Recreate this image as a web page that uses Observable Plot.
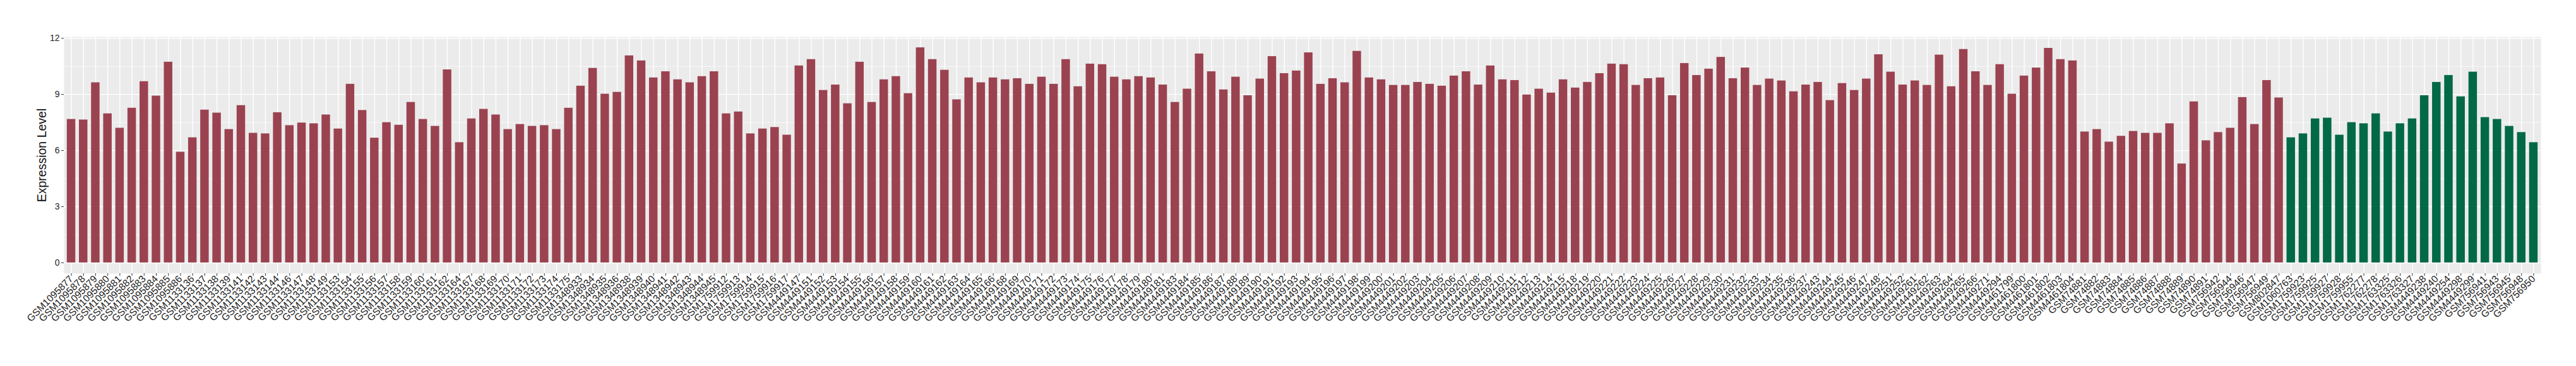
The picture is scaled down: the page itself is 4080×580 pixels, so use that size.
<!DOCTYPE html>
<html>
<head>
<meta charset="utf-8">
<script src="https://cdn.jsdelivr.net/npm/d3@7"></script>
<script src="https://cdn.jsdelivr.net/npm/@observablehq/plot@0.6"></script>
<style>
  html, body { margin: 0; padding: 0; background: #ffffff; }
  #chart svg { display: block; }
</style>
</head>
<body>
<div id="chart"></div>
<script>
const groupNames = ["Group 1", "Group 2"];
const groupColors = ["#9B4250", "#016946"];

const group1Samples = [
  "GSM1095877","GSM1095878","GSM1095879","GSM1095880","GSM1095881","GSM1095882","GSM1095883","GSM1095884","GSM1095885","GSM1095886",
  "GSM1133136","GSM1133137","GSM1133138","GSM1133139","GSM1133141","GSM1133142","GSM1133143","GSM1133144","GSM1133146","GSM1133147",
  "GSM1133148","GSM1133149","GSM1133153","GSM1133154","GSM1133155","GSM1133156","GSM1133157","GSM1133158","GSM1133159","GSM1133160",
  "GSM1133161","GSM1133162","GSM1133164","GSM1133167","GSM1133168","GSM1133169","GSM1133170","GSM1133171","GSM1133172","GSM1133173",
  "GSM1133174","GSM1133175","GSM1348933","GSM1348934","GSM1348935","GSM1348936","GSM1348938","GSM1348939","GSM1348940","GSM1348941",
  "GSM1348942","GSM1348943","GSM1348944","GSM1348945","GSM1759912","GSM1759913","GSM1759914","GSM1759915","GSM1759916","GSM1759917",
  "GSM4449147","GSM4449151","GSM4449152","GSM4449153","GSM4449154","GSM4449155","GSM4449156","GSM4449157","GSM4449158","GSM4449159",
  "GSM4449160","GSM4449161","GSM4449162","GSM4449163","GSM4449164","GSM4449165","GSM4449166","GSM4449168","GSM4449169","GSM4449170",
  "GSM4449171","GSM4449172","GSM4449173","GSM4449174","GSM4449175","GSM4449176","GSM4449177","GSM4449178","GSM4449179","GSM4449180",
  "GSM4449181","GSM4449183","GSM4449184","GSM4449185","GSM4449186","GSM4449187","GSM4449188","GSM4449189","GSM4449190","GSM4449191",
  "GSM4449192","GSM4449193","GSM4449194","GSM4449195","GSM4449196","GSM4449197","GSM4449198","GSM4449199","GSM4449200","GSM4449201",
  "GSM4449202","GSM4449203","GSM4449204","GSM4449205","GSM4449206","GSM4449207","GSM4449208","GSM4449209","GSM4449210","GSM4449211",
  "GSM4449212","GSM4449213","GSM4449214","GSM4449215","GSM4449218","GSM4449219","GSM4449220","GSM4449221","GSM4449222","GSM4449223",
  "GSM4449224","GSM4449225","GSM4449226","GSM4449227","GSM4449228","GSM4449229","GSM4449230","GSM4449231","GSM4449232","GSM4449233",
  "GSM4449234","GSM4449235","GSM4449236","GSM4449237","GSM4449243","GSM4449244","GSM4449245","GSM4449246","GSM4449247","GSM4449248",
  "GSM4449251","GSM4449252","GSM4449261","GSM4449262","GSM4449263","GSM4449264","GSM4449265","GSM4449266","GSM4449271","GSM4449294",
  "GSM4461799","GSM4461800","GSM4461801","GSM4461802","GSM4461803","GSM4461804","GSM74881","GSM74882","GSM74883","GSM74884",
  "GSM74885","GSM74886","GSM74887","GSM74888","GSM74889","GSM74890","GSM74891","GSM756942","GSM756944","GSM756946",
  "GSM756947","GSM756949","GSM802847"
];
const group1Values = [
  7.67,7.64,9.63,7.97,7.20,8.27,9.69,8.92,10.73,5.92,
  6.69,8.17,8.01,7.13,8.41,6.93,6.90,8.03,7.34,7.48,
  7.44,7.91,7.16,9.55,8.15,6.67,7.50,7.36,8.58,7.67,
  7.30,10.32,6.43,7.70,8.21,7.91,7.13,7.40,7.30,7.34,
  7.13,8.27,9.45,10.40,9.02,9.12,11.07,10.80,9.89,10.22,
  9.79,9.63,9.96,10.22,7.97,8.07,6.90,7.16,7.24,6.83,
  10.53,10.87,9.22,9.51,8.51,10.73,8.58,9.79,9.96,9.05,
  11.50,10.87,10.30,8.72,9.89,9.63,9.89,9.79,9.85,9.55,
  9.93,9.55,10.87,9.42,10.63,10.60,9.93,9.79,9.96,9.89,
  9.51,8.58,9.29,11.17,10.22,9.25,9.93,8.94,9.83,11.03,
  10.12,10.26,11.23,9.55,9.85,9.63,11.31,9.89,9.79,9.49,
  9.49,9.65,9.55,9.45,9.99,10.22,9.51,10.53,9.79,9.75,
  8.98,9.29,9.08,9.79,9.35,9.65,10.12,10.63,10.60,9.49,
  9.85,9.89,8.94,10.66,10.02,10.36,10.99,9.85,10.42,9.49,
  9.83,9.73,9.15,9.51,9.65,8.68,9.59,9.22,9.83,11.13,
  10.20,9.51,9.73,9.49,11.11,9.42,11.41,10.22,9.49,10.60,
  9.02,9.99,10.42,11.47,10.87,10.80,7.00,7.13,6.46,6.77,
  7.03,6.93,6.93,7.44,5.29,8.61,6.53,6.97,7.20,8.84,
  7.40,9.75,8.82
];

const group2Samples = [
  "GSM1060763","GSM1759923","GSM1759925","GSM1759927","GSM1759928","GSM1759955","GSM1762277","GSM1762278","GSM1763325","GSM1763326",
  "GSM1763327","GSM4449238","GSM4449240","GSM4449254","GSM4449298","GSM4449299","GSM756941","GSM756943","GSM756945","GSM756948",
  "GSM756950"
];
const group2Values = [
  6.69,6.90,7.70,7.74,6.83,7.50,7.44,7.97,7.00,7.44,
  7.70,8.94,9.65,10.02,8.88,10.20,7.77,7.67,7.30,6.97,
  6.43
];

const yTicks = [0, 3, 6, 9, 12];
const yMinorTicks = [1.5, 4.5, 7.5, 10.5];
const yTitle = "Expression Level";

const data = [
  ...group1Samples.map((s, i) => ({sample: s, value: group1Values[i], group: groupNames[0]})),
  ...group2Samples.map((s, i) => ({sample: s, value: group2Values[i], group: groupNames[1]}))
];
const sampleOrder = [...group1Samples, ...group2Samples];

const chart = Plot.plot({
  width: 4080,
  height: 580,
  marginLeft: 101,
  marginRight: 56,
  marginTop: 58,
  marginBottom: 147,
  style: {fontFamily: "'Liberation Sans', Arial, Helvetica, sans-serif", background: "#ffffff", color: "#1e1e1e"},
  x: {type: "band", domain: sampleOrder, paddingInner: 0.3, paddingOuter: 0.25, label: null},
  y: {domain: [-0.575, 12.075], label: null},
  color: {domain: groupNames, range: groupColors},
  marks: [
    Plot.frame({fill: "#EBEBEB", stroke: "none"}),
    Plot.ruleY(yMinorTicks, {stroke: "#ffffff", strokeWidth: 0.7}),
    Plot.ruleY(yTicks, {stroke: "#ffffff", strokeWidth: 1.4}),
    Plot.gridX({stroke: "#ffffff", strokeOpacity: 1, strokeWidth: 1.4}),
    Plot.barY(data, {x: "sample", y: "value", fill: "group"}),
    Plot.axisY({ticks: yTicks, tickSize: 4, tickPadding: 3, fontSize: 14, label: null, stroke: "#333333"}),
    Plot.axisX({tickRotate: -45, tickSize: 4, tickPadding: 2, fontSize: 15.5, label: null, stroke: "#333333"}),
    Plot.text([yTitle], {frameAnchor: "left", dx: -35, rotate: -90, fontSize: 19.5, fill: "#111111", textAnchor: "middle", lineAnchor: "middle"})
  ]
});
document.getElementById("chart").appendChild(chart);
</script>
</body>
</html>
